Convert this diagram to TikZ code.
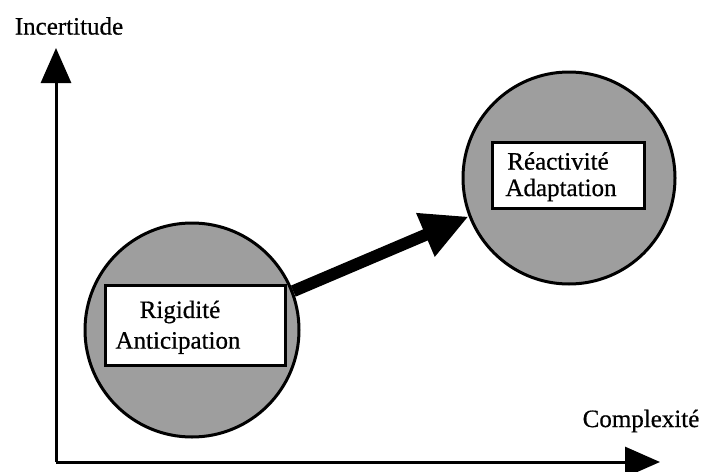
\documentclass[tikz,border=0pt]{standalone}
\usepackage{fontspec}
\setmainfont{Liberation Serif}
\usetikzlibrary{arrows.meta}
\begin{document}
\begin{tikzpicture}[x=1pt,y=-1pt,
  lbl/.style={font=\fontsize{25}{30}\selectfont\addfontfeature{FakeBold=0.6}, inner sep=0pt},
  zone/.style={circle, draw=black, line width=3pt, fill=black!38, minimum size=#1, inner sep=0pt},
  tagbox/.style={draw=black, line width=3pt, fill=white, inner sep=0pt},
  axis/.style={line width=3pt, -{Triangle[length=35pt,width=30pt]}},
  move/.style={line width=12pt, -{Triangle[length=47pt,width=44pt]}}]
\useasboundingbox (0,0) rectangle (701,471);
% axes
\coordinate (O) at (56,462);
\coordinate (ytip) at (56,48);
\coordinate (xtip) at (660,462);
\draw[axis] (O) -- (ytip);
\draw[axis] (O) -- (xtip);
\node[lbl] (yl) at (69,26) {Incertitude};
\node[lbl] (xl) at (641,421) {Complexité};
% zones
\node[zone=214pt] (lc) at (192,330) {};
\node[zone=212pt] (rc) at (569,178) {};
% boxes
\node[tagbox, minimum width=180pt, minimum height=80pt] (lb) at (195,325) {};
\node[tagbox, minimum width=152pt, minimum height=66pt] (rb) at (568,175) {};
\node[lbl] (lt1) at (180,312) {Rigidité};
\node[lbl] (lt2) at (178,343) {Anticipation};
\node[lbl] (rt1) at (558,161) {Réactivité};
\node[lbl] (rt2) at (561,190) {Adaptation};
% arrow
\draw[move] (lc.21) -- (rc.201);
\end{tikzpicture}
\end{document}
